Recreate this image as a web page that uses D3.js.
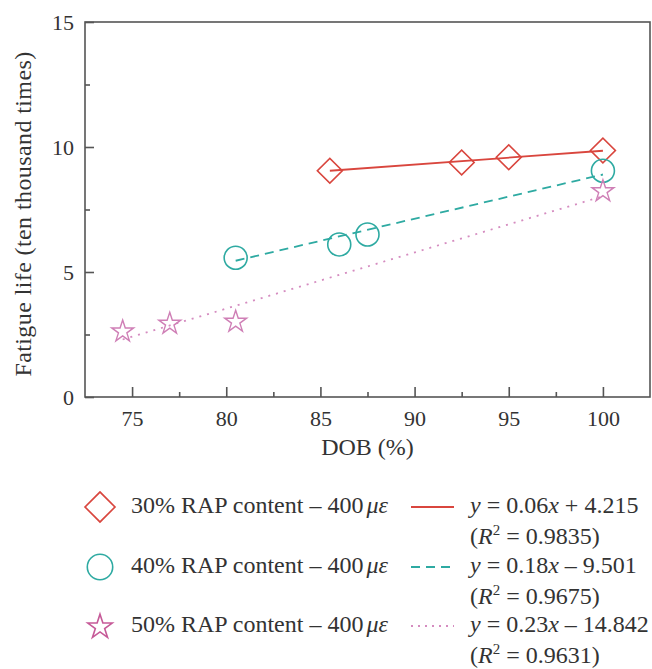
<!DOCTYPE html>
<meta charset="utf-8">
<script src="https://d3js.org/d3.v7.min.js"></script>
<style>
  body { margin: 0; background: #fff; }
  text { font-family: "Liberation Serif", "Times New Roman", serif; fill: #333; }
</style>
<svg id="chart" width="652" height="669"></svg>
<script>

// data
const dob30 = [85.5, 92.5, 95, 100]
const life30 = [9.05, 9.38, 9.59, 9.86]
const dob40 = [80.5, 86, 87.5, 100]
const life40 = [5.57, 6.1, 6.5, 9.05]
const dob50 = [74.5, 77, 80.5, 100]
const life50 = [2.66, 2.97, 3.05, 8.27]

// fitted lines as drawn (end points)
const fitX30 = [85.5, 100], fitY30 = [9.05, 9.85]
const fitX40 = [80.5, 100], fitY40 = [5.45, 8.9]
const fitX50 = [74.5, 100], fitY50 = [2.3, 8.03]

const xTicks = [75, 80, 85, 90, 95, 100]
const yTicks = [0, 5, 10, 15]

const legendNames = ["30% RAP content \u2013 400", "40% RAP content \u2013 400", "50% RAP content \u2013 400"]
const slopes = ["0.06", "0.18", "0.23"]
const intercepts = ["+ 4.215", "\u2013 9.501", "\u2013 14.842"]
const r2 = ["0.9835", "0.9675", "0.9631"]

const svg = d3.select("#chart")

const pLeft = 85, pRight = 650, pTop = 22, pBottom = 397

const x = d3.scaleLinear().domain([72.5, 102.5]).range([pLeft, pRight])
const y = d3.scaleLinear().domain([0, 15]).range([pBottom, pTop])

const red = "#d9463e", teal = "#2eaaa2", pink = "#d58cc0"

// frame
svg.append("rect")
  .attr("x", pLeft).attr("y", pTop)
  .attr("width", pRight - pLeft).attr("height", pBottom - pTop)
  .attr("fill", "none").attr("stroke", "#555").attr("stroke-width", 1.6)

// axes, ticks pointing inwards
const gx = svg.append("g").attr("transform", `translate(0,${pBottom})`)
  .call(d3.axisBottom(x).tickValues(xTicks).tickSize(-10).tickPadding(13))
const gy = svg.append("g").attr("transform", `translate(${pLeft},0)`)
  .call(d3.axisLeft(y).tickValues(yTicks).tickSize(-9).tickPadding(11))
const gxm = svg.append("g").attr("transform", `translate(0,${pBottom})`)
  .call(d3.axisBottom(x).tickValues(d3.range(77.5, 100, 5)).tickSize(-5).tickFormat(""))
const gym = svg.append("g").attr("transform", `translate(${pLeft},0)`)
  .call(d3.axisLeft(y).tickValues([2.5, 7.5, 12.5]).tickSize(-5).tickFormat(""))

for (const g of [gx, gy, gxm, gym]) {
  g.select(".domain").remove()
  g.selectAll("line").attr("stroke", "#555").attr("stroke-width", 1.6)
  g.selectAll("text").style("font-size", "22px").attr("fill", "#333")
    .style("font-family", "Liberation Serif, serif")
}

// axis titles
svg.append("text")
  .attr("x", (pLeft + pRight) / 2).attr("y", 455)
  .attr("text-anchor", "middle").style("font-size", "24px")
  .text("DOB (%)")
svg.append("text")
  .attr("transform", `translate(31,214) rotate(-90)`)
  .attr("text-anchor", "middle").style("font-size", "24px")
  .style("letter-spacing", "0.4px")
  .text("Fatigue life (ten thousand times)")

// fit lines
const line = d3.line().x(d => x(d[0])).y(d => y(d[1]))
svg.append("path").datum(d3.zip(fitX30, fitY30)).attr("d", line)
  .attr("fill", "none").attr("stroke", red).attr("stroke-width", 1.8)
svg.append("path").datum(d3.zip(fitX40, fitY40)).attr("d", line)
  .attr("fill", "none").attr("stroke", teal).attr("stroke-width", 1.8)
  .attr("stroke-dasharray", "9,6")
svg.append("path").datum(d3.zip(fitX50, fitY50)).attr("d", line)
  .attr("fill", "none").attr("stroke", pink).attr("stroke-width", 1.8)
  .attr("stroke-dasharray", "2,6")

// markers
const diamond = d3.symbol().type(d3.symbolSquare).size(312)
const circle = d3.symbol().type(d3.symbolCircle).size(Math.PI * 11.5 * 11.5)
const star = d3.symbol().type(d3.symbolStar).size(150)

svg.append("g").selectAll("path")
  .data(d3.zip(dob30, life30))
  .join("path")
    .attr("d", diamond)
    .attr("transform", d => `translate(${x(d[0])},${y(d[1])}) rotate(45)`)
    .attr("fill", "none").attr("stroke", red).attr("stroke-width", 1.6)

svg.append("g").selectAll("path")
  .data(d3.zip(dob40, life40))
  .join("path")
    .attr("d", circle)
    .attr("transform", d => `translate(${x(d[0])},${y(d[1])})`)
    .attr("fill", "none").attr("stroke", teal).attr("stroke-width", 1.6)

svg.append("g").selectAll("path")
  .data(d3.zip(dob50, life50))
  .join("path")
    .attr("d", star)
    .attr("transform", d => `translate(${x(d[0])},${y(d[1]) + 1})`)
    .attr("fill", "none").attr("stroke", "#cf7fb6").attr("stroke-width", 1.4)

// legend
const rowY = [513, 573, 632]
const markerColors = [red, teal, "#c65a98"]
const lineColors = [red, teal, pink]
const dashes = [null, "9,6", "2,5"]
const legendSymbols = [
  d3.symbol().type(d3.symbolSquare).size(450),
  d3.symbol().type(d3.symbolCircle).size(Math.PI * 12.7 * 12.7),
  d3.symbol().type(d3.symbolStar).size(185)
]

const leg = svg.append("g").selectAll("g")
  .data(legendNames)
  .join("g")

leg.append("path")
  .attr("d", (d, i) => legendSymbols[i]())
  .attr("transform", (d, i) => `translate(100,${rowY[i] - 6 + (i === 2 ? 1 : 0)})` + (i === 0 ? " rotate(45)" : ""))
  .attr("fill", "none")
  .attr("stroke", (d, i) => markerColors[i])
  .attr("stroke-width", 1.6)

const lt = leg.append("text")
  .attr("x", 131).attr("y", (d, i) => rowY[i])
  .style("font-size", "24px")
lt.append("tspan").text(d => d)
lt.append("tspan").attr("dx", 3).style("font-style", "italic").text("\u03bc\u03b5")

leg.append("line")
  .attr("x1", 411).attr("x2", 454)
  .attr("y1", (d, i) => rowY[i] - 6).attr("y2", (d, i) => rowY[i] - 6)
  .attr("stroke", (d, i) => lineColors[i])
  .attr("stroke-width", 1.8)
  .attr("stroke-dasharray", (d, i) => dashes[i])

const eq = leg.append("text")
  .attr("x", 470).attr("y", (d, i) => rowY[i])
  .style("font-size", "24px")
eq.append("tspan").style("font-style", "italic").text("y")
eq.append("tspan").text((d, i) => " = " + slopes[i])
eq.append("tspan").style("font-style", "italic").text("x")
eq.append("tspan").text((d, i) => " " + intercepts[i])

const rt = leg.append("text")
  .attr("x", 470).attr("y", (d, i) => rowY[i] + 31)
  .style("font-size", "24px")
rt.append("tspan").text("(")
rt.append("tspan").style("font-style", "italic").text("R")
rt.append("tspan").attr("dy", -9).style("font-size", "15px").text("2")
rt.append("tspan").attr("dy", 9).text((d, i) => " = " + r2[i] + ")")

</script>
